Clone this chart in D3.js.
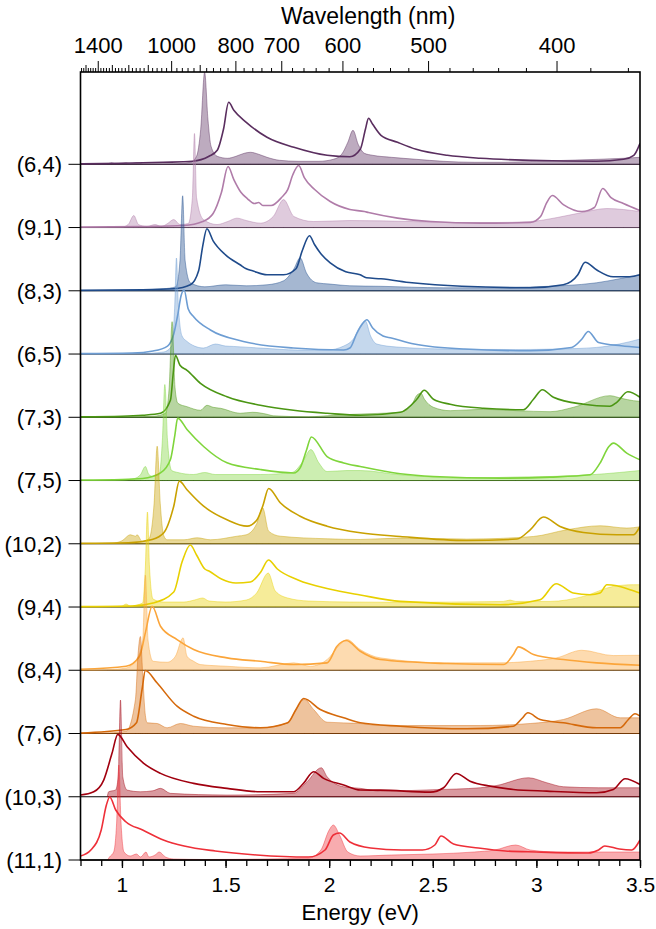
<!DOCTYPE html>
<html><head><meta charset="utf-8">
<script src="https://cdn.jsdelivr.net/npm/d3@7"></script>
<style>
body{margin:0;background:#fff}
text{font-family:"Liberation Sans",Arial,Helvetica,sans-serif;fill:#000}
</style>
</head><body>
<script>
// chirality labels, top to bottom
const tubes=["(6,4)","(9,1)","(8,3)","(6,5)","(7,3)","(7,5)","(10,2)","(9,4)","(8,4)","(7,6)","(10,3)","(11,1)"];
const lineColors=["#5a2e5f","#b07ca9","#1f4b8b","#6d9dd3","#4b9613","#7fd53b","#c9a100","#e8d000","#fba53a","#d5690b","#a1000f","#ee2f38"];

const energyTicks=[1,1.5,2,2.5,3,3.5];
const wavelengthLabels=[1400,1000,800,700,600,500,400];

// spectra as [energy eV, intensity a.u.]
const fill_6_4=[[0.80,0],[0.93,0.5],[0.95,1.5],[0.97,0.5],[1.02,1.5],[1.04,0.5],[1.07,1.5],[1.10,0.5],[1.25,0.5],[1.33,2],[1.36,8],[1.38,35],[1.399,92],[1.415,45],[1.43,18],[1.46,8],[1.51,6],[1.55,8],[1.59,11],[1.62,12],[1.66,10],[1.70,7],[1.76,4],[1.85,3],[1.95,3],[2.02,5],[2.06,10],[2.09,22],[2.115,34],[2.14,20],[2.17,11],[2.21,9],[2.30,7],[2.42,5],[2.55,3],[2.70,2],[2.85,2],[3.00,3],[3.15,4],[3.30,5],[3.42,6],[3.50,7]];
const line_6_4=[[0.80,0.5],[1.00,1],[1.20,2],[1.34,3],[1.42,8],[1.46,14],[1.49,35],[1.515,62],[1.54,54],[1.60,42],[1.70,27],[1.83,17],[1.99,9],[2.10,7.5],[2.15,15],[2.175,35],[2.19,46],[2.21,40],[2.25,29],[2.33,22],[2.42,15],[2.57,9],[2.73,6],[2.97,4],[3.29,3],[3.42,5],[3.47,9],[3.50,21]];

const fill_9_1=[[0.80,0],[1.00,0.5],[1.03,3],[1.057,12],[1.08,3],[1.12,1],[1.16,3],[1.19,1],[1.22,4],[1.25,8],[1.28,3],[1.32,4],[1.34,30],[1.35,94],[1.36,30],[1.393,8],[1.459,3],[1.51,6],[1.555,9.4],[1.60,7],[1.668,4.4],[1.73,11],[1.78,28],[1.83,11],[1.925,6],[2.10,7],[2.40,6],[2.60,5],[2.80,5],[2.97,6],[3.10,10],[3.22,15],[3.34,19],[3.42,18],[3.50,16]];
const line_9_1=[[0.80,0.5],[1.10,1],[1.30,2],[1.39,6],[1.44,14],[1.48,35],[1.512,61],[1.54,48],[1.575,35],[1.605,29],[1.64,24],[1.66,25],[1.68,22],[1.72,22],[1.77,30],[1.80,38],[1.825,53],[1.853,62],[1.88,50],[1.93,38],[2.005,26],[2.10,18],[2.17,16],[2.19,15],[2.33,9.4],[2.49,6],[2.73,4.4],[2.97,5],[3.02,11],[3.05,25],[3.077,32],[3.13,23],[3.22,16],[3.28,20],[3.32,39],[3.36,30],[3.42,24],[3.50,17]];

const fill_8_3=[[0.80,0],[1.00,0.5],[1.10,1],[1.20,2],[1.26,4],[1.28,30],[1.293,95],[1.305,30],[1.33,8],[1.40,4],[1.50,6],[1.60,5],[1.70,6],[1.78,10],[1.83,22],[1.86,33],[1.89,18],[1.94,8],[2.005,6.7],[2.10,5],[2.246,4.5],[2.55,3],[2.80,3],[3.00,4],[3.29,8],[3.40,12],[3.50,16]];
const line_8_3=[[0.80,0.5],[1.10,1],[1.25,2],[1.33,6],[1.37,20],[1.39,45],[1.41,62],[1.44,50],[1.50,36],[1.57,26],[1.60,22],[1.63,20],[1.70,16],[1.78,16],[1.84,22],[1.87,40],[1.905,55],[1.93,46],[1.96,37],[2.005,28],[2.08,19],[2.15,16],[2.18,13],[2.25,12],[2.40,8],[2.64,4.5],[2.97,3],[3.13,6],[3.20,16],[3.235,28.6],[3.29,21],[3.37,14],[3.45,14],[3.50,16]];

const fill_6_5=[[0.80,0],[1.10,0.5],[1.20,2],[1.24,8],[1.255,50],[1.263,96],[1.272,50],[1.29,18],[1.314,12.6],[1.35,8],[1.393,6],[1.451,10],[1.50,8],[1.538,7.6],[1.668,6],[1.85,4],[1.99,4],[2.07,8],[2.12,16],[2.15,28],[2.174,33.3],[2.20,18],[2.23,10],[2.327,7],[2.57,5],[2.90,4.5],[3.10,5],[3.29,6.6],[3.40,10],[3.50,15]];
const line_6_5=[[0.80,0.5],[1.05,1],[1.15,3],[1.22,8],[1.25,20],[1.27,40],[1.285,58],[1.30,64],[1.32,45],[1.345,37.6],[1.427,24],[1.586,12.6],[1.827,6],[2.07,4],[2.10,6],[2.134,21],[2.16,30],[2.182,34.3],[2.21,26],[2.26,18],[2.30,16],[2.41,10],[2.65,5],[2.97,3.3],[3.17,6.6],[3.22,15],[3.25,22.6],[3.30,11.6],[3.41,8.3],[3.50,6.6]];

const fill_7_3=[[0.80,0],[1.00,0.3],[1.15,1],[1.21,4],[1.228,30],[1.242,95.6],[1.256,30],[1.27,14],[1.314,10.6],[1.379,7],[1.41,12],[1.44,10],[1.476,9],[1.57,4],[1.63,5],[1.70,3],[1.73,1.5],[1.90,0.5],[2.02,2],[2.12,3],[2.25,4],[2.343,5],[2.40,13],[2.423,22],[2.443,24],[2.46,18],[2.503,10],[2.584,6.6],[2.743,8],[2.906,6.6],[3.066,5.6],[3.179,10],[3.355,21.6],[3.41,19],[3.468,16.6],[3.50,16]];
const line_7_3=[[0.80,0.5],[1.00,1],[1.10,2],[1.186,4],[1.234,17],[1.248,45],[1.258,62],[1.28,52],[1.314,47],[1.379,34],[1.507,20.6],[1.668,12],[1.828,7],[1.99,4],[2.15,2],[2.343,5],[2.423,18],[2.459,27],[2.503,18],[2.584,13],[2.745,9],[2.937,7.6],[2.986,18],[3.029,27.6],[3.082,20],[3.227,13],[3.355,11],[3.388,15],[3.441,25.6],[3.50,20]];

const fill_7_5=[[0.80,0],[1.00,0.5],[1.06,2],[1.09,6],[1.113,14],[1.13,6],[1.15,4],[1.16,5],[1.18,6],[1.195,40],[1.207,96],[1.22,40],[1.24,10],[1.27,8],[1.345,6],[1.40,8],[1.45,6],[1.668,6],[1.82,8],[1.87,18],[1.912,31],[1.95,17.7],[1.99,9],[2.086,10],[2.15,10],[2.343,5.7],[2.50,3.5],[2.665,2.4],[2.90,3.5],[3.066,4],[3.259,5.7],[3.40,8],[3.50,10]];
const line_7_5=[[0.80,0.5],[1.00,1],[1.10,2],[1.186,7.6],[1.234,21],[1.255,45],[1.269,62.4],[1.314,51],[1.394,34],[1.507,17.7],[1.668,11],[1.829,7.6],[1.86,12.7],[1.89,30],[1.914,43.6],[1.99,24],[2.07,17.6],[2.15,14],[2.343,6.7],[2.502,4],[2.825,2.4],[3.066,3.4],[3.259,5.7],[3.307,17.4],[3.35,34],[3.371,37.4],[3.436,27.4],[3.50,20.7]];

const fill_10_2=[[0.80,0],[0.95,0.5],[1.00,3],[1.041,9],[1.065,7.6],[1.073,9],[1.097,2.6],[1.13,5],[1.155,40],[1.17,97.6],[1.185,40],[1.202,8],[1.218,4],[1.30,4],[1.363,6],[1.427,4],[1.556,7.6],[1.60,9],[1.65,20],[1.679,36],[1.708,12.6],[1.764,7.6],[1.99,5],[2.15,4.3],[2.343,5.7],[2.665,4.7],[2.986,7.3],[3.147,14],[3.307,18],[3.436,15.7],[3.50,17]];
const line_10_2=[[0.80,0.5],[1.03,1],[1.146,4.3],[1.202,11],[1.25,37.6],[1.277,62.6],[1.314,54],[1.394,37.6],[1.507,24],[1.604,17.6],[1.652,24],[1.68,38],[1.708,55.3],[1.764,41],[1.86,27.6],[1.99,17.6],[2.15,11],[2.343,7.3],[2.665,3.3],[2.906,4.7],[2.97,14],[3.034,26.7],[3.114,17.3],[3.227,11.3],[3.388,9],[3.468,9],[3.50,17.3]];

const fill_9_4=[[0.80,0],[0.95,0.5],[1.00,1],[1.02,3],[1.04,1],[1.10,4],[1.113,40],[1.123,95],[1.133,40],[1.15,8],[1.20,5],[1.30,5],[1.35,7],[1.39,9],[1.42,6],[1.50,5],[1.60,7],[1.65,14],[1.706,34],[1.74,16],[1.80,9],[1.90,6],[2.10,5],[2.343,4.7],[2.84,5.6],[2.873,7],[2.90,5.6],[3.066,5.6],[3.227,10.6],[3.371,20.6],[3.468,22.3],[3.50,22.3]];
const line_9_4=[[0.80,0.5],[1.05,1],[1.15,4],[1.25,15],[1.29,45],[1.33,62],[1.36,52],[1.40,38],[1.42,36],[1.48,28],[1.55,24],[1.62,25],[1.67,35],[1.707,47],[1.75,38],[1.85,27],[2.00,18],[2.15,12],[2.343,5.6],[2.825,2.3],[3.018,7.3],[3.095,23.3],[3.178,14],[3.259,12.3],[3.307,14],[3.34,22.3],[3.388,21.3],[3.452,17.3],[3.50,14]];

const fill_8_4=[[0.80,0],[0.93,0.5],[1.02,2.3],[1.07,10.6],[1.10,30],[1.113,95],[1.126,30],[1.15,9],[1.218,8],[1.258,14],[1.295,32.4],[1.314,14],[1.346,9],[1.379,5.7],[1.507,4],[1.668,2.4],[1.829,7.4],[1.909,4],[1.99,10.7],[2.05,25],[2.086,30.7],[2.15,20.7],[2.246,12.4],[2.568,7.4],[2.809,7.4],[2.97,9],[3.098,12.4],[3.219,20],[3.371,14.7],[3.50,15]];
const line_8_4=[[0.80,1],[1.02,4],[1.085,14],[1.113,37.4],[1.146,64],[1.186,44],[1.266,30.7],[1.346,20.7],[1.507,12.4],[1.668,9],[1.829,5.7],[1.99,7.4],[2.038,24],[2.083,29.7],[2.15,19],[2.246,10.7],[2.568,6.7],[2.841,5.7],[2.889,15.7],[2.913,23.4],[2.986,15.7],[3.13,10.7],[3.291,7.4],[3.50,5]];

const fill_7_6=[[0.80,0],[0.94,0.7],[1.02,2.3],[1.065,34],[1.078,80],[1.089,97],[1.10,60],[1.112,20],[1.122,10.7],[1.17,10],[1.218,5.7],[1.282,10],[1.346,7.3],[1.507,5.7],[1.668,5.7],[1.80,10.7],[1.84,24],[1.88,34],[1.925,24],[1.99,11.3],[2.15,10],[2.246,8],[2.729,8],[2.97,10],[3.13,14],[3.291,24.7],[3.404,15.7],[3.50,15.7]];
const line_7_6=[[0.80,0.5],[1.02,4],[1.07,10.7],[1.097,44],[1.113,63],[1.169,50.7],[1.266,27.3],[1.346,17.3],[1.507,9],[1.668,5.7],[1.80,10.7],[1.84,24],[1.877,35],[1.957,24],[2.07,15.7],[2.15,10.7],[2.343,7.3],[2.665,4.7],[2.889,7.3],[2.93,15],[2.959,20.7],[3.018,14],[3.13,10.7],[3.291,5.7],[3.404,5.7],[3.444,14],[3.476,19.7],[3.50,17.3]];

const fill_10_3=[[0.929,0],[0.936,5],[0.969,6.7],[0.982,20],[0.993,96.7],[1.004,20],[1.025,6.7],[1.089,5],[1.15,6],[1.186,8.4],[1.234,3.4],[1.507,1.7],[1.828,3.4],[1.893,15],[1.962,29],[1.99,20],[2.07,10],[2.15,8.4],[2.246,5.6],[2.50,7],[2.729,9],[2.809,11.3],[2.962,19],[3.05,14],[3.13,10],[3.30,9],[3.50,9]];
const line_10_3=[[0.80,1.7],[0.864,5],[0.912,16.7],[0.952,43.4],[0.98,62.4],[1.025,50],[1.105,33.4],[1.186,23.4],[1.346,13.4],[1.507,8.4],[1.668,5],[1.828,5],[1.876,13.4],[1.925,25],[1.973,18.4],[2.07,11.7],[2.15,6.7],[2.246,6.6],[2.488,4.6],[2.552,9],[2.613,23.3],[2.68,15.6],[2.777,10.6],[2.889,7.3],[3.05,5.6],[3.291,4],[3.371,7.3],[3.428,18],[3.50,12.3]];

const fill_11_1=[[0.93,0],[0.94,3],[0.96,8],[0.975,40],[0.985,95],[0.995,40],[1.01,8],[1.04,4],[1.07,6],[1.09,3],[1.116,8],[1.13,3],[1.16,5],[1.18,8],[1.21,3],[1.25,1],[1.40,0.5],[1.70,1],[1.90,2],[1.96,10],[2.00,30],[2.02,35],[2.05,25],[2.09,8],[2.15,4],[2.30,5],[2.50,6],[2.70,8],[2.80,10],[2.90,15],[2.97,10],[3.10,8],[3.30,8],[3.50,8]];
const line_11_1=[[0.80,4],[0.85,10],[0.90,30],[0.925,55],[0.941,63],[0.97,50],[1.02,38],[1.10,30],[1.20,20],[1.30,14],[1.45,9],[1.65,5],[1.90,3],[1.98,10],[2.02,25],[2.05,27],[2.10,18],[2.20,12],[2.35,10],[2.45,10],[2.51,15],[2.54,24],[2.60,16],[2.72,12],[2.85,9],[3.00,8],[3.25,7],[3.30,10],[3.33,14],[3.40,11],[3.46,10],[3.50,20]];

const fillSpectra=[fill_6_4,fill_9_1,fill_8_3,fill_6_5,fill_7_3,fill_7_5,fill_10_2,fill_9_4,fill_8_4,fill_7_6,fill_10_3,fill_11_1];
const lineSpectra=[line_6_4,line_9_1,line_8_3,line_6_5,line_7_3,line_7_5,line_10_2,line_9_4,line_8_4,line_7_6,line_10_3,line_11_1];

const w=656,h=929;
const pL=80.5,pR=640,pT=72,pB=860;
const firstBase=164.3;
const step=(pB-firstBase)/(tubes.length-1);

const svg=d3.select("body").append("svg").attr("width",w).attr("height",h);

const x=d3.scaleLinear().domain([0.8,3.5]).range([pL,pR]);

svg.append("clipPath").attr("id","plot")
  .append("rect").attr("x",pL).attr("y",pT).attr("width",pR-pL).attr("height",pB-pT);

// row baselines
tubes.forEach(function(t,i){
  const b=firstBase+i*step;
  svg.append("line").attr("x1",pL-12).attr("x2",pR).attr("y1",b).attr("y2",b)
    .attr("stroke","#000").attr("stroke-width",1);
  svg.append("text").attr("x",62).attr("y",b).attr("dy","0.36em")
    .attr("text-anchor","end").attr("font-size",22).text(t);
});

const g=svg.append("g").attr("clip-path","url(#plot)");
tubes.forEach(function(t,i){
  const b=firstBase+i*step;
  const y=d3.scaleLinear().domain([0,100]).range([b,b-100]);
  const area=d3.area().x(d=>x(d[0])).y0(b).y1(d=>y(d[1])).curve(d3.curveMonotoneX);
  const line=d3.line().x(d=>x(d[0])).y(d=>y(d[1])).curve(d3.curveMonotoneX);
  g.append("path").datum(fillSpectra[i]).attr("d",area)
    .attr("fill",lineColors[i]).attr("fill-opacity",0.4)
    .attr("stroke",lineColors[i]).attr("stroke-opacity",0.55).attr("stroke-width",0.8);
  g.append("path").datum(lineSpectra[i]).attr("d",line)
    .attr("fill","none").attr("stroke",lineColors[i]).attr("stroke-width",1.6);
});

// frame
svg.append("rect").attr("x",pL).attr("y",pT).attr("width",pR-pL).attr("height",pB-pT)
  .attr("fill","none").attr("stroke","#000").attr("stroke-width",1.6);

// bottom energy axis
const minorE=d3.range(8,36).map(d=>d/10);
svg.append("g").attr("transform",`translate(0,${pB})`)
  .call(d3.axisBottom(x).tickValues(minorE).tickSize(6).tickFormat(""))
  .call(a=>a.select(".domain").remove());
svg.append("g").attr("transform",`translate(0,${pB})`)
  .call(d3.axisBottom(x).tickValues(energyTicks).tickSize(8).tickPadding(9).tickFormat(d3.format("~g")))
  .call(a=>a.select(".domain").remove())
  .call(a=>a.selectAll("text").attr("font-size",21).attr("font-family",null));
svg.selectAll(".tick line").attr("stroke-width",1.3);
svg.append("text").attr("x",(pL+pR)/2).attr("y",920).attr("text-anchor","middle")
  .attr("font-size",22).text("Energy (eV)");

// top wavelength axis (nm), positioned through the energy scale
const hc=1239.84;
const wl=d3.range(360,1560,20);
const tg=svg.append("g");
tg.selectAll("line").data(wl).join("line")
  .attr("x1",d=>x(hc/d)).attr("x2",d=>x(hc/d))
  .attr("y1",pT)
  .attr("y2",d=>pT-(wavelengthLabels.includes(d)?11:(d%100===0?7:4)))
  .attr("stroke","#000").attr("stroke-width",1);
tg.selectAll("text").data(wavelengthLabels).join("text")
  .attr("x",d=>x(hc/d)).attr("y",53).attr("text-anchor","middle")
  .attr("font-size",22).text(d=>d);
svg.append("text").attr("x",(pL+pR)/2+8).attr("y",24).attr("text-anchor","middle")
  .attr("font-size",23).text("Wavelength (nm)");
</script>
</body></html>
